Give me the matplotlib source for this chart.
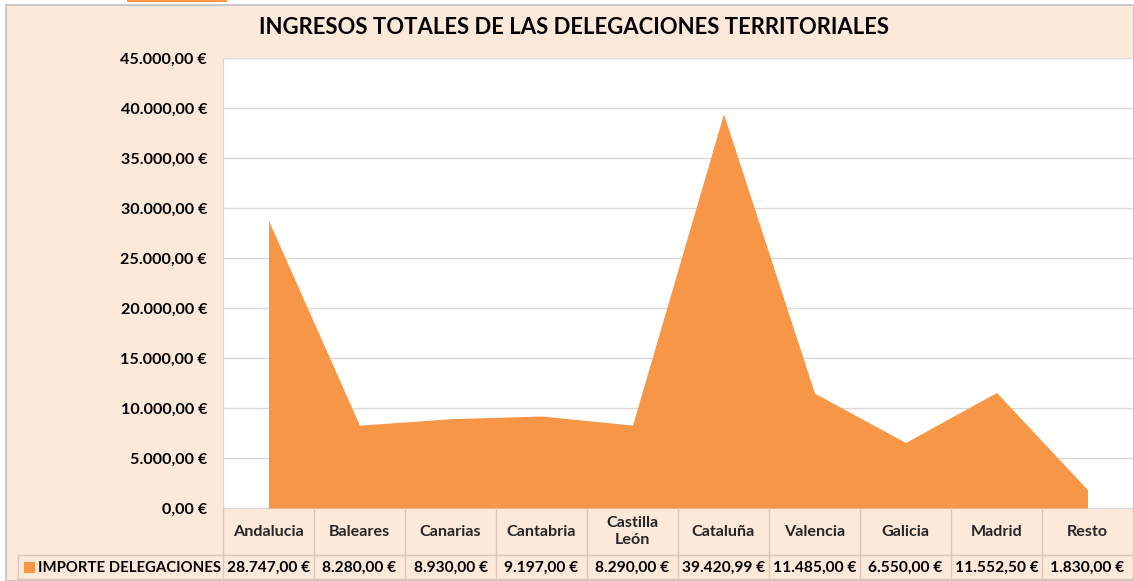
import matplotlib.pyplot as plt
from matplotlib.patches import Rectangle
from matplotlib.lines import Line2D
from matplotlib.ticker import FuncFormatter

plt.rcParams['font.family'] = ['Lato', 'DejaVu Sans']

# data
categorias = ['Andalucia', 'Baleares', 'Canarias', 'Cantabria', 'Castilla\nLeón',
              'Cataluña', 'Valencia', 'Galicia', 'Madrid', 'Resto']
importes = [28747.00, 8280.00, 8930.00, 9197.00, 8290.00,
            39420.99, 11485.00, 6550.00, 11552.50, 1830.00]
serie = 'IMPORTE DELEGACIONES'
titulo = 'INGRESOS TOTALES DE LAS DELEGACIONES TERRITORIALES'

W, H = 1134, 581
peach = '#FDE9D9'
orange = '#F79646'
grid = '#D9D9D9'


def euro(v, pos=None):
    s = f'{v:,.2f}'.replace(',', 'X').replace('.', ',').replace('X', '.')
    return s + ' €'


def fx(px):
    return px / W


def fy(py):
    return 1 - py / H


fig = plt.figure(figsize=(W / 100, H / 100), dpi=100)
fig.patch.set_facecolor('white')

# chart area background
fig.patches.append(Rectangle((fx(6), 0), 1 - fx(6), fy(5), transform=fig.transFigure,
                             facecolor=peach, edgecolor='#BFBFBF', lw=1.2, zorder=-10))
# small orange strip at top (cut-off element)
fig.patches.append(Rectangle((fx(127), fy(2)), fx(100), 2 / H, transform=fig.transFigure,
                             facecolor=orange, edgecolor='none', zorder=-5))

left, right, top, bottom = 223, 1133, 58, 508
ax = fig.add_axes([fx(left), fy(bottom), fx(right - left), (bottom - top) / H])
ax.set_facecolor('white')

x = list(range(len(categorias)))
ax.fill_between(x, importes, 0, color=orange, lw=0, zorder=3)
ax.set_xlim(-0.5, len(categorias) - 0.5)
ax.set_ylim(0, 45000)
ax.set_yticks(range(0, 45001, 5000))
ax.yaxis.set_major_formatter(FuncFormatter(euro))
ax.grid(axis='y', color=grid, lw=1)
ax.set_axisbelow(True)
ax.set_xticks([])
ax.tick_params(axis='y', length=0, pad=11.5, labelsize=11.6)
for lab in ax.get_yticklabels():
    lab.set_fontweight('bold')
for s in ['top', 'right']:
    ax.spines[s].set_visible(False)
ax.spines['left'].set_color(grid)
ax.spines['bottom'].set_color(grid)

fig.text(fx(574), fy(28), titulo, ha='center', va='center',
         fontsize=15.9, fontweight='bold')

# data table
col_w = (right - left) / len(categorias)
row1, row2, row3 = bottom, 555, 579
lc = '#D9C8BC'
for i in range(len(categorias) + 1):
    xp = left + i * col_w
    fig.add_artist(Line2D([fx(xp), fx(xp)], [fy(row1), fy(row3)], color=lc, lw=1))
fig.add_artist(Line2D([fx(18), fx(right)], [fy(row2), fy(row2)], color=lc, lw=1))
fig.add_artist(Line2D([fx(18), fx(right)], [fy(row3), fy(row3)], color=lc, lw=1))
fig.add_artist(Line2D([fx(18), fx(18)], [fy(row2), fy(row3)], color=lc, lw=1))

for i, (c, v) in enumerate(zip(categorias, importes)):
    xc = left + (i + 0.5) * col_w
    fig.text(fx(xc), fy((row1 + row2) / 2), c, ha='center', va='center',
             fontsize=11.6, fontweight='bold', color='#262626', linespacing=1.3)
    fig.text(fx(xc), fy((row2 + row3) / 2 + 1), euro(v), ha='center', va='center',
             fontsize=11.2, fontweight='bold', color='black')

fig.patches.append(Rectangle((fx(24), fy(573)), fx(11), 11 / H, transform=fig.transFigure,
                             facecolor=orange, edgecolor='none'))
fig.text(fx(38), fy((row2 + row3) / 2 + 1), serie, ha='left', va='center',
         fontsize=10.7, fontweight='bold', color='black')

fig.savefig('out.png', dpi=100, facecolor=fig.get_facecolor())
